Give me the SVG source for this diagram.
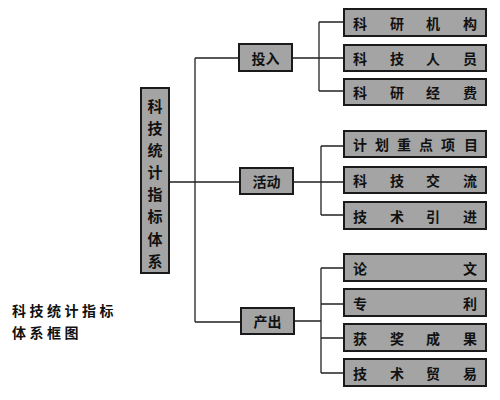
<svg xmlns="http://www.w3.org/2000/svg" width="500" height="400" viewBox="0 0 500 400">
<style>
.box{fill:#a4a4a4;stroke:#1a1a1a;stroke-width:2}
.ln{fill:none;stroke:#222;stroke-width:1.3}
text{font-family:"Noto Sans CJK SC","Noto Sans",sans-serif;fill:#111;font-size:14px;font-weight:bold;text-anchor:middle;dominant-baseline:central}
.main{font-size:15px}
.cap{text-anchor:start;font-size:14px;letter-spacing:3.5px}
</style>
<rect width="500" height="400" fill="#fff"/>
<g id="connectors">
<path class="ln" d="M169 182H240M195 58V322M195 58H239M195 322H241"/>
<path class="ln" d="M292 58H319M319 22V91M319 22H344M319 58H344M319 91H344"/>
<path class="ln" d="M293 182H321M321 146V215M321 146H344M321 182H344M321 215H344"/>
<path class="ln" d="M294 321H321M321 268V373M321 268H344M321 304H344M321 338H344M321 373H344"/>
</g>
<g id="root">
<rect class="box" x="141" y="88" width="28" height="185"/>
<text class="main" x="155" y="105">科</text>
<text class="main" x="155" y="127">技</text>
<text class="main" x="155" y="149">统</text>
<text class="main" x="155" y="171">计</text>
<text class="main" x="155" y="193">指</text>
<text class="main" x="155" y="215">标</text>
<text class="main" x="155" y="238">体</text>
<text class="main" x="155" y="260">系</text>
</g>
<g id="touru"><rect class="box" x="239" y="44" width="53" height="27"/><text x="265.5" y="57.5">投入</text></g>
<g id="huodong"><rect class="box" x="240" y="168" width="53" height="26"/><text x="266.5" y="181">活动</text></g>
<g id="chanchu"><rect class="box" x="241" y="308" width="53" height="26"/><text x="267.5" y="321">产出</text></g>
<g id="n1"><rect class="box" x="344" y="9" width="142" height="27"/><text x="360" y="22.5">科</text><text x="397" y="22.5">研</text><text x="433" y="22.5">机</text><text x="470" y="22.5">构</text></g>
<g id="n2"><rect class="box" x="344" y="45" width="142" height="26"/><text x="360" y="58">科</text><text x="397" y="58">技</text><text x="433" y="58">人</text><text x="470" y="58">员</text></g>
<g id="n3"><rect class="box" x="344" y="79" width="142" height="26"/><text x="360" y="92">科</text><text x="397" y="92">研</text><text x="433" y="92">经</text><text x="470" y="92">费</text></g>
<g id="n4"><rect class="box" x="344" y="131" width="142" height="26"/><text x="360" y="144">计</text><text x="382" y="144">划</text><text x="404" y="144">重</text><text x="426" y="144">点</text><text x="448" y="144">项</text><text x="471" y="144">目</text></g>
<g id="n5"><rect class="box" x="344" y="167" width="142" height="26"/><text x="360" y="180">科</text><text x="397" y="180">技</text><text x="433" y="180">交</text><text x="470" y="180">流</text></g>
<g id="n6"><rect class="box" x="344" y="202" width="142" height="27"/><text x="360" y="215.5">技</text><text x="397" y="215.5">术</text><text x="433" y="215.5">引</text><text x="470" y="215.5">进</text></g>
<g id="n7"><rect class="box" x="344" y="254" width="142" height="27"/><text x="360" y="267.5">论</text><text x="470" y="267.5">文</text></g>
<g id="n8"><rect class="box" x="344" y="289" width="142" height="27"/><text x="360" y="302.5">专</text><text x="470" y="302.5">利</text></g>
<g id="n9"><rect class="box" x="344" y="324" width="142" height="27"/><text x="360" y="337.5">获</text><text x="397" y="337.5">奖</text><text x="433" y="337.5">成</text><text x="470" y="337.5">果</text></g>
<g id="n10"><rect class="box" x="344" y="359" width="142" height="27"/><text x="360" y="372.5">技</text><text x="397" y="372.5">术</text><text x="433" y="372.5">贸</text><text x="470" y="372.5">易</text></g>
<g id="caption">
<text class="cap" x="12" y="310">科技统计指标</text>
<text class="cap" x="12" y="332">体系框图</text>
</g>
</svg>
